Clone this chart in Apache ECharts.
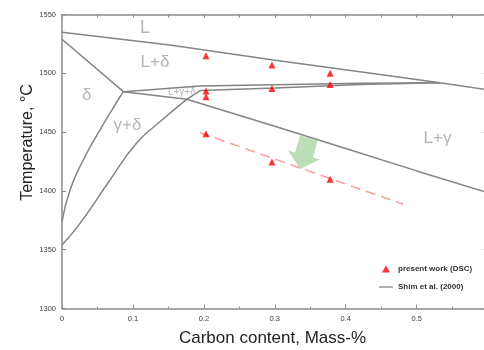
<!DOCTYPE html>
<html>
<head>
<meta charset="utf-8">
<script src="https://cdn.jsdelivr.net/npm/echarts@6/dist/echarts.min.js"></script>
<style>html,body{margin:0;padding:0;background:#fff;}#c{width:484px;height:350px;}</style>
</head>
<body>
<div id="c"></div>
<script>
// ---- data (Carbon content in mass-%, temperature in °C) ----
const xTicks = [0, 0.1, 0.2, 0.3, 0.4, 0.5, 0.6];
const yTicks = [1300, 1350, 1400, 1450, 1500, 1550];

// Shim et al. (2000) phase boundaries
const liquidus        = [[0,1535],[0.152,1524],[0.298,1511.3],[0.42,1501.4],[0.533,1492],[0.6,1486]];
const deltaSolidus    = [[0,1529],[0.0865,1484.4]];
const deltaBoundary   = [[0,1373.8],[0.0113,1400.8],[0.030,1426.3],[0.0536,1451.8],[0.079,1477.3],[0.0865,1484.4]];
const gammaBoundary   = [[0,1354],[0.0254,1372.4],[0.0677,1409.3],[0.105,1440.5],[0.138,1458.8],[0.1758,1477.9]];
const threePhaseUpper = [[0.0865,1484.4],[0.1945,1489.2],[0.3,1490.3],[0.42,1491.5],[0.533,1492]];
const threePhaseLower = [[0.1758,1477.9],[0.195,1485.3],[0.3,1487.5],[0.42,1490.5],[0.533,1492]];
const gammaSolidus    = [[0.0865,1484.4],[0.1758,1477.9],[0.3,1455],[0.4,1436],[0.5,1417],[0.6,1398.5]];

// present work (DSC)
const dscX = [0.203,0.203,0.203,0.203,0.296,0.296,0.296,0.378,0.378,0.378];
const dscT = [1515,1485,1480,1448.5,1507,1487,1424.5,1500,1490.5,1410];

// trend line through DSC points
const trendLine = [[0.1945,1449.5],[0.481,1388.6]];

// region labels
const regionNames = ['L','L+δ','δ','γ+δ','L+γ+δ','L+γ'];
const regionPos   = [[0.117,1538.1],[0.131,1509.2],[0.0348,1481.5],[0.0923,1456.0],[0.169,1484.1],[0.5293,1444.6]];

// arrow annotation
const arrowPos = [[0.3418,1431.8]];

// ---- chart ----
const LINE = '#858585';
const FONT = '"Liberation Sans", Arial, sans-serif';
const shimName = 'Shim et al. (2000)';
const dscName = 'present work (DSC)';

function boundary(data, smooth){
  return {type:'line', name:shimName, data:data, symbol:'none', showSymbol:false,
    smooth:smooth || false,
    lineStyle:{color:LINE, width:1.5}, itemStyle:{color:LINE}, z:2, silent:true};
}

const chart = echarts.init(document.getElementById('c'), null, {renderer:'canvas'});
const axisBase = {
  type:'value', splitLine:{show:false},
  axisLine:{show:true, onZero:false, lineStyle:{color:'#8a8a8a', width:1.5}},
  axisTick:{show:true, inside:true, length:4, lineStyle:{color:'#8a8a8a', width:1}},
  axisLabel:{fontFamily:FONT, fontSize:7.5, color:'#444', margin:6, formatter:v=>String(+(+v).toFixed(2))}
};
chart.setOption({
  animation:false,
  backgroundColor:'#ffffff',
  grid:{left:62, top:14.5, width:425.6, height:294, containLabel:false, outerBoundsMode:'none'},
  xAxis:[
    Object.assign({}, axisBase, {position:'bottom', min:xTicks[0], max:xTicks[xTicks.length-1], interval:0.1,
      minorTick:{show:true, splitNumber:2, length:2, lineStyle:{color:'#8a8a8a'}},
      axisLabel:Object.assign({}, axisBase.axisLabel, {showMaxLabel:false})}),
    Object.assign({}, axisBase, {position:'top', min:xTicks[0], max:xTicks[xTicks.length-1], interval:0.05,
      axisTick:{show:true, inside:true, length:3, lineStyle:{color:'#8a8a8a'}}, axisLabel:{show:false}})
  ],
  yAxis:[
    Object.assign({}, axisBase, {position:'left', min:yTicks[0], max:yTicks[yTicks.length-1], interval:50}),
    Object.assign({}, axisBase, {position:'right', min:yTicks[0], max:yTicks[yTicks.length-1], interval:50, axisLabel:{show:false}})
  ],
  legend:{
    orient:'vertical', left:379, top:265, padding:0, itemWidth:14, itemHeight:7, itemGap:10,
    textStyle:{fontFamily:FONT, fontSize:8, fontWeight:'bold', color:'#333'},
    data:[
      {name:dscName, icon:'path://M50,0 L100,86 L0,86 Z'},
      {name:shimName, icon:'path://M0,0 L100,0 L100,9 L0,9 Z'}
    ]
  },
  graphic:[
    {type:'text', x:28, y:142.5, rotation:Math.PI/2,
      style:{text:'Temperature, °C', font:'16px '+FONT, fill:'#222', textAlign:'center', textVerticalAlign:'middle'}},
    {type:'text', x:272.5, y:338,
      style:{text:'Carbon content, Mass-%', font:'17px '+FONT, fill:'#222', textAlign:'center', textVerticalAlign:'middle'}}
  ],
  series:[
    boundary(liquidus), boundary(deltaSolidus), boundary(deltaBoundary, 0.5), boundary(gammaBoundary, 0.5),
    boundary(threePhaseUpper), boundary(threePhaseLower), boundary(gammaSolidus),
    {type:'line', data:trendLine, symbol:'none', lineStyle:{color:'#ff9b9b', width:1.5, type:[10,6]}, z:3, silent:true},
    {type:'scatter', name:'arrow', data:arrowPos, symbol:'path://M22,0 L78,0 L78,55 L100,55 L50,100 L0,55 L22,55 Z',
      symbolSize:[33,32], symbolRotate:-16, symbolKeepAspect:false, itemStyle:{color:'#acd5a8'}, z:4, silent:true},
    {type:'scatter', name:dscName, data:dscX.map((x,i)=>[x,dscT[i]]), symbol:'triangle', symbolSize:7,
      itemStyle:{color:'#ff0000'}, z:5},
    {type:'scatter', name:'labels', symbolSize:1, itemStyle:{color:'rgba(0,0,0,0)'}, z:6, silent:true,
      data:regionNames.map((n,i)=>({name:n, value:regionPos[i],
        label:{fontSize: n==='L+γ+δ' ? 10 : (n==='L' ? 18 : 17)}})),
      label:{show:true, position:'inside', formatter:'{b}', color:'#a3a3a3', fontFamily:FONT, fontSize:17}}
  ]
});
</script>
</body>
</html>
